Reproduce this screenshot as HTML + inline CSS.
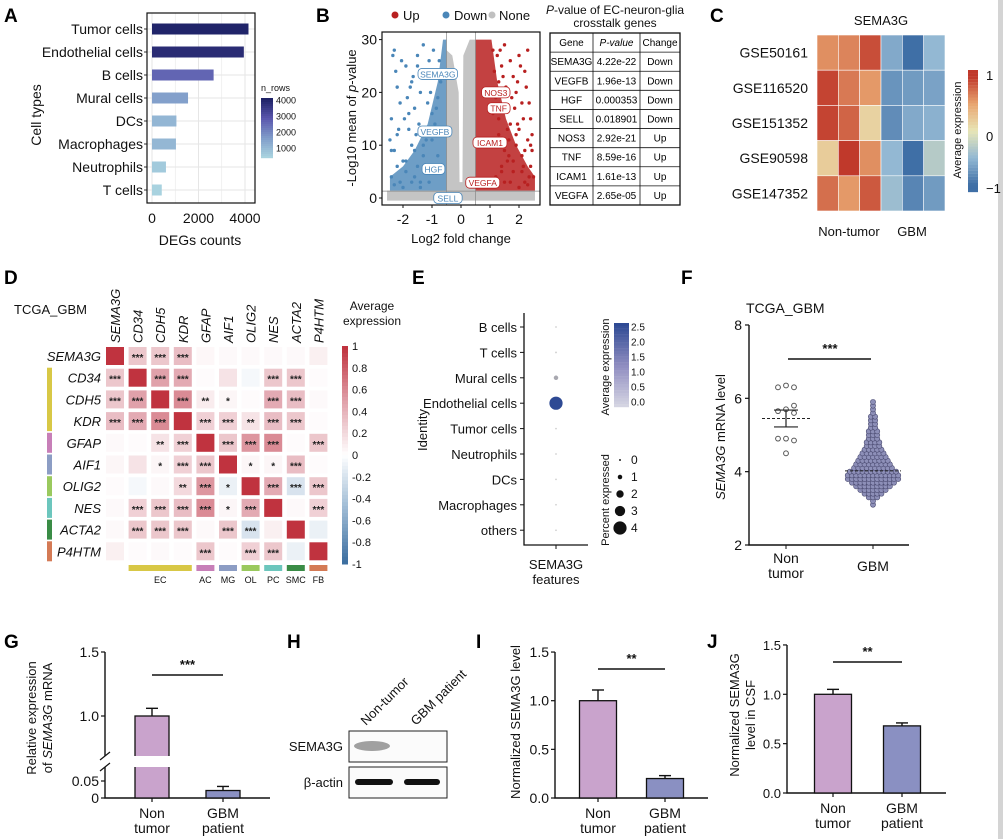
<!DOCTYPE html>
<html><head><meta charset="utf-8"><style>
body{margin:0;background:#fff}
svg{display:block;font-family:"Liberation Sans",Arial,sans-serif}
.pl{font-weight:bold;font-size:19px}
.t{font-size:13px;fill:#111}
.s{font-size:11px;fill:#111}
</style></head><body>
<svg id="fig" width="1003" height="839" viewBox="0 0 1003 839" xmlns="http://www.w3.org/2000/svg">
<rect x="998" y="0" width="5" height="839" fill="#d4d4d4"/>
<text class="pl" x="4" y="22">A</text>
<text class="pl" x="316" y="22">B</text>
<text class="pl" x="710" y="22">C</text>
<text class="pl" x="4" y="284">D</text>
<text class="pl" x="412" y="284">E</text>
<text class="pl" x="681" y="284">F</text>
<text class="pl" x="4" y="648">G</text>
<text class="pl" x="287" y="648">H</text>
<text class="pl" x="476" y="648">I</text>
<text class="pl" x="707" y="648">J</text>

<g id="pa">
<text class="t" x="200" y="245" text-anchor="middle" style="font-size:14px">DEGs counts</text>
<text class="t" transform="translate(41,115) rotate(-90)" text-anchor="middle" style="font-size:14px">Cell types</text>
<text class="s" x="261" y="91" style="font-size:9px">n_rows</text>
</g>
<g id="pb">
<circle cx="395" cy="15" r="3.5" fill="#b82020"/>
<text class="t" x="403" y="20">Up</text>
<circle cx="446" cy="15" r="3.5" fill="#4a86b8"/>
<text class="t" x="454" y="20">Down</text>
<circle cx="492" cy="15" r="3.5" fill="#c0c0c0"/>
<text class="t" x="499" y="20">None</text>
<text class="t" x="461" y="243" text-anchor="middle">Log2 fold change</text>
<text class="t" transform="translate(356,118) rotate(-90)" text-anchor="middle">-Log10 mean of <tspan font-style="italic">p</tspan>-value</text>
<text class="s" x="615" y="14" text-anchor="middle" style="font-size:12px"><tspan font-style="italic">P</tspan>-value of EC-neuron-glia</text>
<text class="s" x="615" y="27" text-anchor="middle" style="font-size:12px">crosstalk genes</text>
</g>
<text class="t" x="881" y="25" text-anchor="middle">SEMA3G</text>
<text class="t" x="849" y="236" text-anchor="middle">Non-tumor</text>
<text class="t" x="912" y="236" text-anchor="middle">GBM</text>
<text class="s" transform="translate(961,130) rotate(-90)" text-anchor="middle" style="font-size:11px">Average expression</text>
<text class="t" x="14" y="314">TCGA_GBM</text>
<text class="s" x="372" y="310" text-anchor="middle" style="font-size:12px">Average</text>
<text class="s" x="372" y="325" text-anchor="middle" style="font-size:12px">expression</text>
<text class="t" transform="translate(427,430) rotate(-90)" text-anchor="middle">Identity</text>
<text class="t" x="556" y="569" text-anchor="middle">SEMA3G</text>
<text class="t" x="556" y="584" text-anchor="middle">features</text>
<text class="s" transform="translate(609,367) rotate(-90)" text-anchor="middle" style="font-size:11px">Average expression</text>
<text class="s" transform="translate(609,500) rotate(-90)" text-anchor="middle" style="font-size:11px">Percent expressed</text>
<text class="t" x="746" y="313" style="font-size:14px">TCGA_GBM</text>
<text class="t" transform="translate(725,437) rotate(-90)" text-anchor="middle"><tspan font-style="italic">SEMA3G</tspan> mRNA level</text>
<text class="t" transform="translate(36,718) rotate(-90)" text-anchor="middle">Relative expression</text>
<text class="t" transform="translate(52,718) rotate(-90)" text-anchor="middle">of <tspan font-style="italic">SEMA3G</tspan> mRNA</text>
<g>
<text class="t" transform="translate(366,726) rotate(-45)">Non-tumor</text>
<text class="t" transform="translate(416,726) rotate(-45)">GBM patient</text>
<rect x="349" y="731" width="98" height="31" fill="#fbfbfb" stroke="#222"/>
<rect x="349" y="767" width="98" height="31" fill="#fbfbfb" stroke="#222"/>
<ellipse cx="372" cy="746" rx="18" ry="5" fill="#8a8a8a" opacity="0.8"/>
<rect x="355" y="779" width="38" height="6" rx="3" fill="#111"/>
<rect x="404" y="779" width="36" height="6" rx="3" fill="#111"/>
<text class="t" x="343" y="751" text-anchor="end">SEMA3G</text>
<text class="t" x="343" y="787" text-anchor="end">β-actin</text>
</g>
<text class="t" transform="translate(520,722) rotate(-90)" text-anchor="middle">Normalized SEMA3G level</text>
<text class="t" transform="translate(739,715) rotate(-90)" text-anchor="middle">Normalized SEMA3G</text>
<text class="t" transform="translate(755,715) rotate(-90)" text-anchor="middle">level in CSF</text>
</svg>
<script>
const NS='http://www.w3.org/2000/svg';
const svg=document.getElementById('fig');
function mk(tag,a,txt){const e=document.createElementNS(NS,tag);for(const k in a)e.setAttribute(k,a[k]);if(txt!==undefined)e.textContent=txt;svg.appendChild(e);return e;}
function lerp(a,b,t){return a+(b-a)*t}
function hex(c){return [parseInt(c.slice(1,3),16),parseInt(c.slice(3,5),16),parseInt(c.slice(5,7),16)]}
function ramp(stops,t){t=Math.max(0,Math.min(1,t));const n=stops.length-1;const i=Math.min(n-1,Math.floor(t*n));const f=t*n-i;const a=hex(stops[i]),b=hex(stops[i+1]);return 'rgb('+a.map((v,k)=>Math.round(lerp(v,b[k],f))).join(',')+')';}

/* ---------- Panel A data ---------- */
const aCats=['Tumor cells','Endothelial cells','B cells','Mural cells','DCs','Macrophages','Neutrophils','T cells'];
const aVals=[4150,3950,2650,1550,1050,1030,600,420];
const aTicks=[0,2000,4000];
const aLegTicks=[1000,2000,3000,4000];

/* ---------- Panel B data ---------- */
const downX=[-2.3,-2.2,-2.4,-1.9,-1.7,-1.5,-1.3,-1.1,-0.9,-2.1,-1.8,-1.6,-1.4,-1.2,-1.0,-0.8,-2.3,-2.0,-1.7,-1.5,-1.3,-1.1,-0.9,-0.7,-2.4,-2.1,-1.9,-1.6,-1.4,-1.2,-1.0,-0.8,-2.2,-1.8,-1.5,-0.95,-1.25,-2.35,
 -2.25,-2.05,-1.85,-1.65,-1.45,-1.15,-2.45,-2.15,-1.95,-1.75,-1.55,-1.35,-1.05,-2.3,-2.0,-1.7,-1.4,-1.1,-2.4,-2.2,-1.9,-1.6,-1.3,-1.0,-0.85,-0.75];
const downY=[28,21,15,25,22,27,29,26,24,18,13,17,20,11,16,19,9,7,10,6,8,12,14,22,4,3,5,4,3,6,5,8,12,16,25,28,23,27,
 24,26,19,23,14,18,11,13,15,21,12,24,20,2.5,2,3,2,3,9,6,7,9,10,11,17,26];
const upX=[2.3,2.2,2.0,1.9,1.7,1.5,1.3,1.1,2.4,2.1,1.8,1.6,1.4,1.2,2.3,2.0,1.7,1.5,1.3,1.1,2.4,2.1,1.9,1.6,1.4,1.2,2.2,1.8,1.5,2.45,2.35,1.95,1.65,1.25,2.15,
 2.25,2.05,1.85,1.55,1.35,1.15,2.45,2.15,1.75,1.45,2.35,1.95,1.65,2.3,2.0,1.7,1.4,2.4,2.2,1.9,1.6,1.3,2.5,2.1,1.8];
const upY=[28,24,27,20,26,29,22,28,15,18,23,17,25,19,11,13,14,9,12,16,6,8,10,7,5,4,3,5,3,9,4,22,11,27,6,
 21,25,17,21,28,24,12,15,19,23,18,14,8,2.5,2,3,6,10,9,12,13,15,4,5,7];
const downEnvX=[-0.5,-0.5,-0.62,-0.8,-1.15,-1.6,-2.0,-2.45,-2.45];
const downEnvY=[1.4,30,30,22,14,9,6,4,1.4];
const upEnvX=[0.5,0.5,1.05,1.25,1.55,1.9,2.3,2.55,2.55];
const upEnvY=[1.4,30,30,22,15,10,6,4,1.4];
const bXTicks=[-2,-1,0,1,2];
const bYTicks=[0,10,20,30];
const gLabels=['SEMA3G','VEGFB','HGF','SELL','NOS3','TNF','ICAM1','VEGFA'];
const gLabX=[-0.8,-0.9,-0.95,-0.45,1.2,1.3,1.0,0.75];
const gLabY=[23.5,12.6,5.5,0,20,17,10.5,2.9];
const gLabUp=[false,false,false,false,true,true,true,true];
const tGenes=['SEMA3G','VEGFB','HGF','SELL','NOS3','TNF','ICAM1','VEGFA'];
const tPvals=['4.22e-22','1.96e-13','0.000353','0.018901','2.92e-21','8.59e-16','1.61e-13','2.65e-05'];
const tChange=['Down','Down','Down','Down','Up','Up','Up','Up'];

/* ---------- Panel C data ---------- */
const cRows=['GSE50161','GSE116520','GSE151352','GSE90598','GSE147352'];
const cVals=[[0.6,0.65,0.9,-0.6,-1,-0.5],[0.95,0.7,0.55,-0.75,-0.7,-0.65],[0.95,0.8,0.15,-0.8,-0.6,-0.55],[0.2,1.0,0.6,-0.5,-1,-0.3],[0.75,0.55,0.85,-0.45,-0.85,-0.7]];

/* ---------- Panel D data ---------- */
const dGenes=['SEMA3G','CD34','CDH5','KDR','GFAP','AIF1','OLIG2','NES','ACTA2','P4HTM'];
const dCorr=[
[1,.3,.3,.35,.04,.03,.03,.03,.03,.08],
[.3,1,.5,.45,0,.15,-.05,.3,.3,0],
[.3,.5,1,.6,.1,.05,0,.45,.35,.03],
[.35,.45,.6,1,.25,.25,.15,.35,.3,0],
[.03,0,.15,.25,1,.3,.55,.6,0,.3],
[.05,.15,.05,.25,.3,1,.05,.05,.35,0],
[0,-.05,.03,.2,.55,-.1,1,.45,-.2,.3],
[.03,.25,.3,.35,.6,.05,.45,1,.03,.25],
[.03,.3,.3,.3,.03,.3,-.2,.08,1,-.1],
[.08,0,.03,0,.3,0,.25,.3,-.1,1]];
const dStars=[
['','***','***','***','','','','','',''],
['***','','***','***','','','','***','***',''],
['***','***','','***','**','*','','***','***',''],
['***','***','***','','***','***','**','***','***',''],
['','','**','***','','***','***','***','','***'],
['','','*','***','***','','*','*','***',''],
['','','','**','***','*','','***','***','***'],
['','***','***','***','***','*','***','','','***'],
['','***','***','***','','***','***','','',''],
['','','','','***','','***','***','','']];
const dGroupCols=['#d8c846','#c77fb8','#8c9dc4','#9ac95e','#6cc6bd','#3a8c46','#d47a55'];
const dGroupNames=['EC','AC','MG','OL','PC','SMC','FB'];
const dGroupStart=[1,4,5,6,7,8,9];
const dGroupEnd=[3,4,5,6,7,8,9];
const dCbTicks=[1,0.8,0.6,0.4,0.2,0,-0.2,-0.4,-0.6,-0.8,-1];

/* ---------- Panel E data ---------- */
const eCats=['B cells','T cells','Mural cells','Endothelial cells','Tumor cells','Neutrophils','DCs','Macrophages','others'];
const eAvg=[0,0,0.3,2.6,0,0,0,0,0];
const ePct=[0.05,0.1,1,4,0.05,0.05,0.05,0.05,0.05];
const eCbTicks=[0,0.5,1,1.5,2,2.5];
const ePctTicks=[0,1,2,3,4];

/* ---------- Panel F data ---------- */
const fNonVals=[6.3,6.35,6.3,5.8,5.65,5.7,5.6,4.9,4.9,4.85,4.5];
const fNonOff=[-8,0,8,8,-8,0,8,-8,0,8,0];
const fGbmBins=[3.1,3.2,3.3,3.4,3.5,3.6,3.7,3.8,3.9,4.0,4.1,4.2,4.3,4.4,4.5,4.6,4.7,4.8,4.9,5.0,5.1,5.2,5.3,5.4,5.5,5.6,5.7,5.8,5.9];
const fGbmCounts=[1,1,3,5,7,9,11,13,13,12,10,9,8,7,6,5,4,4,3,3,3,2,2,2,2,1,1,1,1];
const fNonMean=5.45, fNonSem=0.23, fGbmMean=4.02;
const fTicks=[2,4,6,8];

/* ---------- Bars G / I / J ---------- */
const barGroups=['Non tumor','GBM patient'];
const gVals=[1.0,0.022]; const gErr=[0.06,0.012];
const iVals=[1.0,0.2]; const iErr=[0.11,0.03];
const jVals=[1.0,0.68]; const jErr=[0.05,0.03];
const barTicks=[0,0.5,1.0,1.5];

/* ================= DRAW A ================= */
(function(){
 const x0=152,x1=245,top=13,bot=203,L=147,R=255;
 const X=v=>x0+(v-0)*(x1-x0)/4000;
 const Y=i=>29+i*23;
 let e;
 for(let v=0;v<=4000;v+=1000){e=mk('line',{x1:X(v),x2:X(v),y1:top,y2:bot,stroke:'#e6e6e6','stroke-width':v%2000?0.6:1});
 
 }
 aCats.forEach((c,i)=>{
  e=mk('line',{x1:L,x2:R,y1:Y(i),y2:Y(i),stroke:'#e6e6e6'});
  
  
  const col=ramp(['#a9d3df','#7f9bc9','#5a56ad','#1e2266'],(aVals[i]-400)/3800);
  e=mk('rect',{x:X(0),y:Y(i)-5.5,width:X(aVals[i])-X(0),height:11,fill:col});
  
  
  e=mk('text',{x:L-4,y:Y(i)+5,'text-anchor':'end','class':'t',style:'font-size:14px'},c);
  
  
  e=mk('line',{x1:L-3,x2:L,y1:Y(i),y2:Y(i),stroke:'#333'});
  
  
 });
 e=mk('rect',{x:L,y:top,width:R-L,height:bot-top,fill:'none',stroke:'#111','stroke-width':1.2});
 
 
 aTicks.forEach(v=>{
  e=mk('text',{x:X(v),y:223,'text-anchor':'middle','class':'t',style:'font-size:14px'},String(v));
  
  
 });
 const cbT=98,cbB=158;
 for(let k=0;k<30;k++){e=mk('rect',{x:261,y:cbT+k*2,width:12,height:2.2,fill:ramp(['#1e2266','#5a56ad','#7f9bc9','#a9d3df'],k/29)});
 
 }
 aLegTicks.forEach(v=>{
  const y=cbB-(v-400)/(4150-400)*(cbB-cbT);
  e=mk('text',{x:276,y:y+3,'class':'s',style:'font-size:9px'},String(v));
  
  
 });
})();

/* ================= DRAW B ================= */
(function(){
 const X=v=>461+v*29, Y=v=>198-v*5.28;
 const L=382,R=540,T=32,B=205;
 let e;
 const blue='#4a86b8',red='#b82020',gray='#c4c4c4';
 e=mk('rect',{x:X(-2.55),y:Y(1.4),width:X(2.55)-X(-2.55),height:Y(-0.5)-Y(1.4),fill:gray});
 
 
 e=mk('polygon',{points:[[-0.5,0],[-0.5,28],[-0.3,27],[-0.08,20],[-0.05,3],[0.05,3],[0.08,27],[0.3,30],[0.5,30],[0.5,0]].map(p=>X(p[0])+','+Y(p[1])).join(' '),fill:gray});
 
 
 e=mk('polygon',{points:downEnvX.map((v,i)=>X(v)+','+Y(downEnvY[i])).join(' '),fill:blue,opacity:0.8});
 
 
 e=mk('polygon',{points:upEnvX.map((v,i)=>X(v)+','+Y(upEnvY[i])).join(' '),fill:red,opacity:0.85});
 
 
 downX.forEach((v,i)=>{e=mk('circle',{cx:X(v),cy:Y(downY[i]),r:1.7,fill:blue});
 
 });
 upX.forEach((v,i)=>{e=mk('circle',{cx:X(v),cy:Y(upY[i]),r:1.7,fill:red});
 
 });
 [[X(-0.5),T,X(-0.5),B],[X(0.5),T,X(0.5),B],[L,Y(1.3),R,Y(1.3)]].forEach(l=>{
  e=mk('line',{x1:l[0],y1:l[1],x2:l[2],y2:l[3],stroke:'#888','stroke-width':0.7});
  
  
 });
 gLabels.forEach((g,i)=>{
  const w=g.length*5.6+6;
  e=mk('rect',{x:X(gLabX[i])-w/2,y:Y(gLabY[i])-5.5,width:w,height:11,rx:4,fill:'#fff',stroke:gLabUp[i]?red:blue,'stroke-width':0.8});
  
  
  e=mk('text',{x:X(gLabX[i]),y:Y(gLabY[i])+3.5,'text-anchor':'middle',style:'font-size:8.5px',fill:gLabUp[i]?red:blue},g);
  
  
 });
 e=mk('rect',{x:L,y:T,width:R-L,height:B-T,fill:'none',stroke:'#111','stroke-width':1.2});
 
 
 bXTicks.forEach(v=>{
  e=mk('line',{x1:X(v),x2:X(v),y1:B,y2:B+3,stroke:'#111'});
  
  
  e=mk('text',{x:X(v),y:224,'text-anchor':'middle','class':'t',style:'font-size:14px'},String(v));
  
  
 });
 bYTicks.forEach(v=>{
  e=mk('line',{x1:L-3,x2:L,y1:Y(v),y2:Y(v),stroke:'#111'});
  
  
  e=mk('text',{x:L-5,y:Y(v)+5,'text-anchor':'end','class':'t',style:'font-size:14px'},String(v));
  
  
 });
 const tx=[550,593,640,680], ty0=33, rh=(205-33)/9;
 e=mk('rect',{x:550,y:33,width:130,height:172,fill:'none',stroke:'#111','stroke-width':1.3});
 
 
 for(let r=1;r<9;r++){e=mk('line',{x1:550,x2:680,y1:ty0+r*rh,y2:ty0+r*rh,stroke:'#111','stroke-width':0.8});
 
 }
 [593,640].forEach(x=>{e=mk('line',{x1:x,x2:x,y1:33,y2:205,stroke:'#111','stroke-width':0.8});
 
 });
 const hdr=['Gene','P-value','Change'];
 hdr.forEach((h,c)=>{e=mk('text',{x:(tx[c]+tx[c+1])/2,y:ty0+rh/2+3.5,'text-anchor':'middle',style:'font-size:10px'+(c==1?';font-style:italic':'')},h);
 
 });
 tGenes.forEach((g,r)=>{
  [g,tPvals[r],tChange[r]].forEach((v,c)=>{
   e=mk('text',{x:(tx[c]+tx[c+1])/2,y:ty0+(r+1)*rh+rh/2+3.5,'text-anchor':'middle',style:'font-size:10px'},v);
   
   
  });
 });
})();

/* ================= DRAW C ================= */
(function(){
 const x0=817,y0=35,cw=128/6,ch=176/5;
 const cm=v=>ramp(['#3f6fa6','#93b8d3','#e8e6b6','#e8a46f','#c0392b'],(v+1)/2);
 let e;
 cVals.forEach((row,r)=>{
  row.forEach((v,c)=>{
   e=mk('rect',{x:x0+c*cw,y:y0+r*ch,width:cw,height:ch,fill:cm(v),stroke:'#fff','stroke-width':0.6});
   
   
  });
  e=mk('text',{x:808,y:y0+r*ch+ch/2+5,'text-anchor':'end','class':'t',style:'font-size:14px'},cRows[r]);
  
  
 });
 for(let k=0;k<40;k++){e=mk('rect',{x:968,y:70+k*3.05,width:10,height:3.2,fill:cm(1.1-k/39*2.2)});
 
 }
 [['1',80],['0',141],['−1',193]].forEach(t=>{e=mk('text',{x:986,y:t[1],'class':'t'},t[0]);
 
 });
})();

/* ================= DRAW D ================= */
(function(){
 const cx=i=>115+i*22.6, cy=i=>356+i*21.7, s=18;
 const cm=v=>ramp(['#3d6fa0','#9dbad4','#ffffff','#e0a1aa','#c0333f'],(v+1)/2);
 let e;
 dGenes.forEach((g,i)=>{
  e=mk('text',{transform:'translate('+(cx(i)+5)+',343) rotate(-90)','class':'t',style:'font-size:13px;font-style:italic'},g);
  
  
  e=mk('text',{x:101,y:cy(i)+5,'text-anchor':'end','class':'t',style:'font-size:13px;font-style:italic'},g);
  
  
 });
 dCorr.forEach((row,r)=>row.forEach((v,c)=>{
  e=mk('rect',{x:cx(c)-s/2,y:cy(r)-s/2,width:s,height:s,fill:cm(Math.abs(v)<0.02?0.02:v)});
  
  
  if(dStars[r][c]){e=mk('text',{x:cx(c),y:cy(r)+5,'text-anchor':'middle',style:'font-size:10px;font-weight:bold',fill:'#222'},dStars[r][c]);
  
  }
 }));
 dGroupCols.forEach((col,k)=>{
  const a=dGroupStart[k],b=dGroupEnd[k];
  e=mk('rect',{x:47,y:cy(a)-s/2-1,width:5,height:cy(b)-cy(a)+s+2,fill:col});
  
  
  e=mk('rect',{x:cx(a)-s/2,y:565,width:cx(b)-cx(a)+s,height:6,fill:col});
  
  
  e=mk('text',{x:(cx(a)+cx(b))/2,y:583,'text-anchor':'middle','class':'s',style:'font-size:9px'},dGroupNames[k]);
  
  
 });
 const cbT=346,cbB=564;
 for(let k=0;k<60;k++){e=mk('rect',{x:342,y:cbT+k*(cbB-cbT)/60,width:6,height:(cbB-cbT)/60+0.5,fill:cm(1-k/59*2)});
 
 }
 dCbTicks.forEach(v=>{
  const y=cbB-(v+1)/2*(cbB-cbT);
  e=mk('text',{x:352,y:y+4,'class':'s',style:'font-size:11px'},String(v));
  
  
 });
})();

/* ================= DRAW E ================= */
(function(){
 const ax=524,top=313,bot=545,xr=588,dx=556;
 const Y=i=>327+i*25.4;
 const cm=v=>ramp(['#d4d4e2','#8e8cc0','#2e4a94'],v/2.6);
 const R=p=>0.8+p*1.45;
 let e;
 e=mk('path',{d:`M${ax},${top}V${bot}H${xr}`,fill:'none',stroke:'#111','stroke-width':1.3});
 
 
 e=mk('line',{x1:dx,x2:dx,y1:bot,y2:bot+4,stroke:'#111'});
 
 
 eCats.forEach((c,i)=>{
  e=mk('line',{x1:ax-4,x2:ax,y1:Y(i),y2:Y(i),stroke:'#111'});
  
  
  e=mk('text',{x:ax-7,y:Y(i)+5,'text-anchor':'end','class':'t'},c);
  
  
  e=mk('circle',{cx:dx,cy:Y(i),r:R(ePct[i]),fill:ePct[i]<0.5?'#d0d0d0':(eAvg[i]<1?'#a8a8b0':cm(eAvg[i]))});
  
  
 });
 for(let k=0;k<30;k++){e=mk('rect',{x:614,y:323+k*2.8,width:15,height:3,fill:cm(2.6-k/29*2.6)});
 
 }
 eCbTicks.forEach(v=>{
  const y=402-v/2.5*75;
  e=mk('text',{x:631,y:y+3.5,'class':'s',style:'font-size:10px'},v.toFixed(1));
  
  
 });
 ePctTicks.forEach((p,k)=>{
  e=mk('circle',{cx:620,cy:460+k*17,r:R(p===0?0.1:p),fill:'#111'});
  
  
  e=mk('text',{x:631,y:464+k*17,'class':'t',style:'font-size:12px'},String(p));
  
  
 });
})();

/* ================= DRAW F ================= */
(function(){
 const ax=749,xr=909,Y=v=>545-(v-2)*36.67,xn=786,xg=873;
 let e;
 e=mk('path',{d:`M${ax},${Y(8)}V545H${xr}`,fill:'none',stroke:'#111','stroke-width':1.4});
 
 
 fTicks.forEach(v=>{
  e=mk('line',{x1:ax-4,x2:ax,y1:Y(v),y2:Y(v),stroke:'#111','stroke-width':1.2});
  
  
  e=mk('text',{x:ax-7,y:Y(v)+5,'text-anchor':'end','class':'t',style:'font-size:14px'},String(v));
  
  
 });
 [[xn,'Non',563],[xn,'tumor',578],[xg,'GBM',571]].forEach(t=>{
  e=mk('text',{x:t[0],y:t[2],'text-anchor':'middle','class':'t',style:'font-size:14px'},t[1]);
  
  
 });
 [xn,xg].forEach(x=>{e=mk('line',{x1:x,x2:x,y1:545,y2:549,stroke:'#111'});
 
 });
 fGbmBins.forEach((v,i)=>{
  const n=fGbmCounts[i];
  for(let k=0;k<n;k++){
   const off=(k-(n-1)/2)*4.2;
   e=mk('circle',{cx:xg+off,cy:Y(v),r:2.6,fill:'#8d8fb8',stroke:'#4a4a70','stroke-width':0.6});
   
   
  }
 });
 fNonVals.forEach((v,i)=>{
  e=mk('circle',{cx:xn+fNonOff[i],cy:Y(v),r:2.4,fill:'#fff',stroke:'#555','stroke-width':1});
  
  
 });
 e=mk('line',{x1:xn-24,x2:xn+26,y1:Y(fNonMean),y2:Y(fNonMean),stroke:'#222','stroke-dasharray':'3,2'});
 
 
 e=mk('path',{d:`M${xn-12},${Y(fNonMean+fNonSem)}H${xn+12}M${xn},${Y(fNonMean+fNonSem)}V${Y(fNonMean-fNonSem)}M${xn-12},${Y(fNonMean-fNonSem)}H${xn+12}`,stroke:'#222','stroke-width':1.2,fill:'none'});
 
 
 e=mk('line',{x1:xg-28,x2:xg+28,y1:Y(fGbmMean),y2:Y(fGbmMean),stroke:'#222','stroke-dasharray':'3,2'});
 
 
 e=mk('line',{x1:788,x2:871,y1:359,y2:359,stroke:'#111','stroke-width':1.4});
 
 
 e=mk('text',{x:830,y:353,'text-anchor':'middle','class':'t',style:'font-weight:bold'},'***');
 
 
})();

/* ================= Bar charts G / I / J ================= */
function barChart(o){
 let e;
 const cols=['#c9a3cc','#8a90c2'];
 e=mk('path',{d:`M${o.ax},${o.yTop}V${o.y0}H${o.xr}`,fill:'none',stroke:'#111','stroke-width':1.4});
 
 
 o.ticks.forEach((t,k)=>{
  const y=o.Y(t);
  e=mk('line',{x1:o.ax-4,x2:o.ax,y1:y,y2:y,stroke:'#111','stroke-width':1.2});
  
  
  e=mk('text',{x:o.ax-6,y:y+5,'text-anchor':'end','class':'t',style:'font-size:'+(o.fs||14)+'px'},o.tickLabels[k]);
  
  
 });
 o.vals.forEach((v,i)=>{
  const cx=o.xs[i],w=o.w;
  e=mk('line',{x1:cx,x2:cx,y1:o.Y(v),y2:o.Y(v+o.err[i]),stroke:'#111','stroke-width':1.4});
  
  
  e=mk('line',{x1:cx-6,x2:cx+6,y1:o.Y(v+o.err[i]),y2:o.Y(v+o.err[i]),stroke:'#111','stroke-width':1.4});
  
  
  e=mk('rect',{x:cx-w/2,y:o.Y(v),width:w,height:o.y0-o.Y(v),fill:cols[i],stroke:'#111','stroke-width':1.3});
  
  
  e=mk('line',{x1:cx,x2:cx,y1:o.y0,y2:o.y0+4,stroke:'#111','stroke-width':1.2});
  
  
  const parts=barGroups[i].split(' ');
  parts.forEach((t,k)=>{e=mk('text',{x:cx,y:o.y0+20+k*15,'text-anchor':'middle','class':'t',style:'font-size:14px'},t);
  
  });
 });
 e=mk('line',{x1:o.xs[0],x2:o.xs[1],y1:o.sigY,y2:o.sigY,stroke:'#111','stroke-width':1.4});
 
 
 e=mk('text',{x:(o.xs[0]+o.xs[1])/2,y:o.sigY-6,'text-anchor':'middle','class':'t',style:'font-weight:bold'},o.stars);
 
 
}
(function(){
 const Y=v=> v<=0.05 ? 798-v*340 : 716-(v-1)*128;
 barChart({p:'g',ax:105,yTop:652,y0:798,xr:270,Y:Y,ticks:[0,0.05,1.0,1.5],tickLabels:['0','0.05','1.0','1.5'],vals:gVals,err:gErr,xs:[152,223],w:34,sigY:675,stars:'***'});
 let e=mk('rect',{x:100,y:756,width:80,height:11,fill:'#fff'});
 
 
 e=mk('path',{d:'M100,760L110,752M100,771L110,763',stroke:'#111','stroke-width':1.2});
 
 
})();
barChart({p:'i',ax:555,yTop:652,y0:798,xr:708,Y:v=>798-v*97.3,ticks:barTicks,tickLabels:['0.0','0.5','1.0','1.5'],vals:iVals,err:iErr,xs:[598,665],w:37,sigY:669,stars:'**'});
barChart({p:'j',ax:787,yTop:645,y0:793,xr:946,Y:v=>793-v*98.7,ticks:barTicks,tickLabels:['0.0','0.5','1.0','1.5'],vals:jVals,err:jErr,xs:[833,902],w:37,sigY:662,stars:'**',fs:13});
</script>
</body></html>
